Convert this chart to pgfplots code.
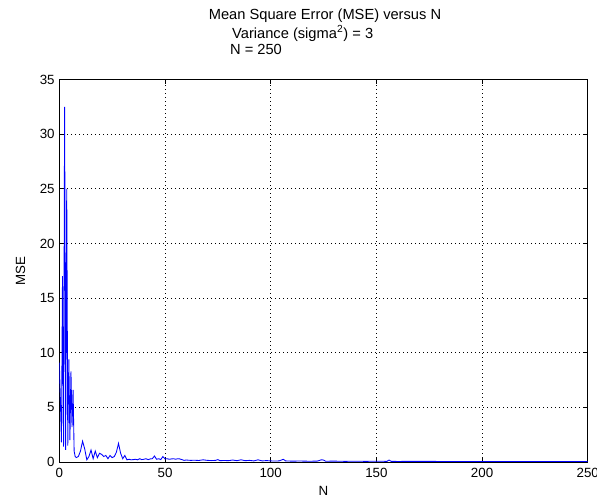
\documentclass[border=0pt]{standalone}
\usepackage{fontspec}
\setmainfont{Liberation Sans}
\usepackage{pgfplots}
\pgfplotsset{compat=1.18}
\begin{document}
\begin{tikzpicture}[x=1pt,y=1pt]
\useasboundingbox (0,0) rectangle (447.75,378);
\begin{axis}[
  at={(44.5pt,31.5pt)}, anchor=south west,
  width=396.3pt, height=286.9pt, scale only axis,
  xmin=0, xmax=250, ymin=0, ymax=35,
  xtick={0,50,100,150,200,250},
  ytick={0,5,10,15,20,25,30,35},
  tick align=inside, major tick length=3.5pt,
  xtick pos=both, ytick pos=both,
  grid=major,
  major grid style={black, line width=0.5pt, dash pattern=on 0.6pt off 2.4pt},
  axis line style={black, line width=0.6pt},
  tick style={black, line width=0.6pt},
  /pgf/number format/assume math mode=true,
  ticklabel style={font=\fontsize{10}{12}\selectfont},
  xticklabel style={yshift=-1pt},
  xlabel={N}, ylabel={MSE},
  label style={font=\fontsize{10}{12}\selectfont},
  xlabel style={at={(axis description cs:0.5,0)}, anchor=north, yshift=-15pt},
  ylabel style={at={(axis description cs:0,0.5)}, anchor=south, yshift=22pt},
  clip=true,
]
\addplot[blue, line width=0.65pt] coordinates {
(0,9.1) (0.5,5.7) (1,1.8) (1.5,17) (2,1.4) (2.5,32.5) (3,1.1) (3.5,25) (4,1.5)
(4.5,9.4) (5,2.0) (5.5,8.3) (6,3.2) (6.5,6.6) (7,1.0) (7.5,0.5) (8,0.4)
(9,0.5) (10,1.0) (11,1.9) (12,1.2) (13,0.2) (14,0.5) (15,1.1) (16,0.3) (17,1.0)
(18,0.4) (19,0.8) (20,0.7) (21,0.5) (22,0.6) (23,0.3) (24,0.6) (25,0.4) (26,0.5)
(27,0.9) (28,1.7) (29,0.8) (30,0.3) (31,0.6) (32,0.2)
(33,0.25) (34,0.2) (35,0.22) (36,0.25) (37,0.2) (38,0.3) (39,0.22) (40,0.25)
(41,0.3) (42,0.22) (43,0.28) (44,0.3) (45,0.55) (46,0.25) (47,0.3) (48,0.22)
(49,0.5) (50,0.28) (51,0.3) (52,0.25) (53,0.28) (54,0.3) (55,0.25) (56,0.3)
(57,0.28) (58,0.22) (59,0.15) (60,0.18) (62,0.15) (64,0.16) (66,0.14) (68,0.2)
(70,0.15) (72,0.13) (74,0.15) (75,0.22) (76,0.12) (78,0.14) (80,0.12) (82,0.18)
(84,0.12) (86,0.2) (88,0.12) (90,0.15) (92,0.1) (94,0.2) (96,0.1) (98,0.13)
(100,0.1) (102,0.09) (104,0.1) (106,0.25) (107,0.1) (110,0.08) (114,0.09)
(118,0.07) (122,0.08) (124,0.2) (125,0.18) (126,0.07) (130,0.08) (135,0.06)
(140,0.07) (145,0.06) (150,0.07) (155,0.06) (156,0.18) (157,0.06) (160,0.05)
(170,0.06) (180,0.05) (190,0.05) (200,0.05) (210,0.04) (220,0.05) (230,0.04)
(240,0.04) (250,0.04)
};
\end{axis}
\node[font=\fontsize{11}{13}\selectfont] at (243.75,366.5) {Mean Square Error (MSE) versus N};
\node[font=\fontsize{11}{13}\selectfont] at (227,353) {Variance (sigma\textsuperscript{2}) = 3};
\node[font=\fontsize{11}{13}\selectfont] at (192,341) {N = 250};
\end{tikzpicture}
\end{document}
